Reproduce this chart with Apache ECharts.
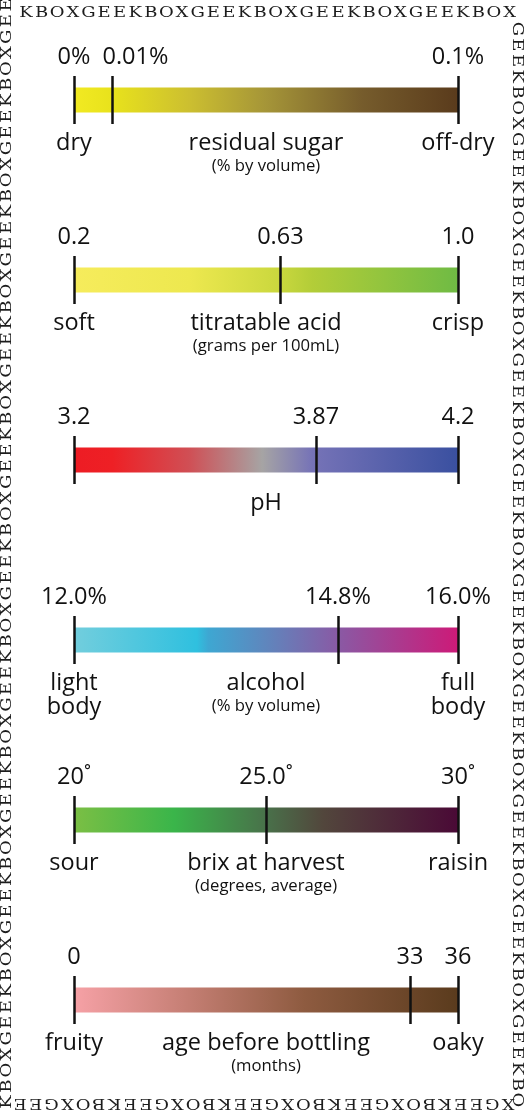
<!DOCTYPE html>
<html lang="en">
<head>
<meta charset="UTF-8">
<title>Wine scales</title>
<script src="https://cdn.jsdelivr.net/npm/echarts@6.0.0/dist/echarts.min.js"></script>
<style>
    body { margin: 0; background: #fff; }
    #chart { width: 525px; height: 1112px; }
</style>
</head>
<body>
<div id="chart"></div>
<script>
    // one row per scale
    const scaleNames = ['residual sugar', 'titratable acid', 'pH', 'alcohol', 'brix at harvest', 'age before bottling'];
    const scaleNotes = ['(% by volume)', '(grams per 100mL)', '', '(% by volume)', '(degrees, average)', '(months)'];
    const lowWords = ['dry', 'soft', '', 'light\nbody', 'sour', 'fruity'];
    const highWords = ['off-dry', 'crisp', '', 'full\nbody', 'raisin', 'oaky'];
    const scaleMin = [0, 0.2, 3.2, 12, 20, 0];
    const scaleMax = [0.1, 1.0, 4.2, 16, 30, 36];
    // where the middle mark sits on each bar
    const markAt = [0.0094, 0.625, 3.825, 14.75, 25, 31.5];
    const minLabels = ['0%', '0.2', '3.2', '12.0%', '20˚', '0'];
    const markLabels = ['0.01%', '0.63', '3.87', '14.8%', '25.0˚', '33'];
    const maxLabels = ['0.1%', '1.0', '4.2', '16.0%', '30˚', '36'];

    // gradient of each bar, left to right
    const barStops = [
        [[0, '#f2ea22'], [0.1, '#e8e21c'], [0.3, '#ccbf30'], [0.5, '#a59538'], [0.75, '#765c2c'], [1, '#5a3b1c']],
        [[0, '#f6ec5c'], [0.3, '#ede84f'], [0.53, '#cbd83e'], [0.62, '#b3cd38'], [1, '#6fbb44']],
        [[0, '#ed1c24'], [0.1, '#ee2025'], [0.3, '#d04f55'], [0.49, '#a6a4a4'], [0.62, '#7673b7'], [1, '#3a50a0']],
        [[0, '#72cedd'], [0.32, '#2fc0df'], [0.35, '#3ea7d2'], [0.5, '#5f86bd'], [0.69, '#8a59a4'], [1, '#cd1a78']],
        [[0, '#7bbf44'], [0.26, '#3ab54a'], [0.5, '#49714a'], [0.65, '#52463c'], [1, '#4a0936']],
        [[0, '#f6a1a6'], [0.3, '#c47e73'], [0.6, '#8e5b40'], [1, '#5a3b1d']]
    ];

    const FONT = '"Open Sans", sans-serif';
    const INK = '#111';
    const BIG = 23.5;

    const grids = [], xAxes = [], yAxes = [], series = [];

    scaleNames.forEach((name, i) => {
        const mid = 100 + 180 * i;
        const lo = scaleMin[i], hi = scaleMax[i];
        grids.push({ left: 74, width: 384, top: mid - 24, height: 48, outerBoundsMode: 'none' });

        const tag = (txt, st) => txt ? txt.split('\n').map(t => '{' + st + '|' + t + '}').join('\n') : '';
        xAxes.push({
            type: 'value', gridIndex: i, min: lo, max: hi,
            axisLine: { show: false }, axisTick: { show: false }, splitLine: { show: false },
            axisLabel: {
                customValues: [lo, (lo + hi) / 2, hi],
                margin: 7,
                color: INK,
                formatter: function (v) {
                    if (Math.abs(v - lo) < 1e-9) return tag(lowWords[i], 'm');
                    if (Math.abs(v - hi) < 1e-9) return tag(highWords[i], 'm');
                    let s = tag(name, 'm');
                    if (scaleNotes[i]) s += '\n' + tag(scaleNotes[i], 's');
                    return s;
                },
                rich: {
                    m: { fontFamily: FONT, fontSize: BIG, lineHeight: 24, color: INK },
                    s: { fontFamily: FONT, fontSize: 16.7, lineHeight: 22, color: INK }
                }
            }
        });
        yAxes.push({ type: 'category', gridIndex: i, data: [name], show: false });

        // invisible base so the coloured bar starts at the scale minimum
        series.push({
            type: 'bar', xAxisIndex: i, yAxisIndex: i, stack: 'row' + i,
            data: [lo], barWidth: 25, silent: true,
            itemStyle: { color: 'rgba(0,0,0,0)' }
        });
        // the 0.01% label sits to the right of its mark so it clears the 0% label
        const midLabel = i === 0 ? { padding: [0, 0, 0, 46] } : {};
        series.push({
            type: 'bar', xAxisIndex: i, yAxisIndex: i, stack: 'row' + i,
            data: [hi - lo], barWidth: 25, silent: true,
            itemStyle: { color: new echarts.graphic.LinearGradient(0, 0, 1, 0,
                barStops[i].map(s => ({ offset: s[0], color: s[1] }))) },
            markLine: {
                silent: true,
                symbol: 'none',
                lineStyle: { color: INK, width: 2.5, type: 'solid' },
                label: {
                    show: true, position: 'end', distance: 7,
                    formatter: p => p.name,
                    fontFamily: FONT, fontSize: BIG, color: INK
                },
                data: [
                    { xAxis: lo, name: minLabels[i] },
                    { xAxis: markAt[i], name: markLabels[i], label: midLabel },
                    { xAxis: hi, name: maxLabels[i] }
                ]
            }
        });
    });

    // GEEKBOX text running round the edge
    const borderWord = 'GEEKBOX';
    function borderRun(count, startIdx, x0, y0, dx, dy, rotation) {
        const out = [];
        for (let k = 0; k < count; k++) {
            const ch = borderWord[(startIdx + k) % borderWord.length];
            out.push({
                type: 'text', silent: true,
                x: x0 + dx * k, y: y0 + dy * k, rotation: rotation, scaleX: 1.2,
                style: {
                    text: ch, fontSize: 15, fontFamily: 'DejaVu Serif', fill: '#1c1c1c',
                    align: 'center', verticalAlign: 'middle',
                    textAlign: 'center', textVerticalAlign: 'middle'
                }
            });
        }
        return out;
    }
    const border = [].concat(
        borderRun(32, 3, 26, 13, 15.6, 0, 0),
        borderRun(69, 0, 517, 29, 0, 15.75, -Math.PI / 2),
        borderRun(32, 6, 508, 1103, -15.74, 0, Math.PI),
        borderRun(70, 3, 7, 1102, 0, -15.9, Math.PI / 2)
    );

    const chart = echarts.init(document.getElementById('chart'));
    chart.setOption({
        animation: false,
        backgroundColor: '#fff',
        grid: grids,
        xAxis: xAxes,
        yAxis: yAxes,
        series: series,
        graphic: { elements: border }
    });
</script>
</body>
</html>
